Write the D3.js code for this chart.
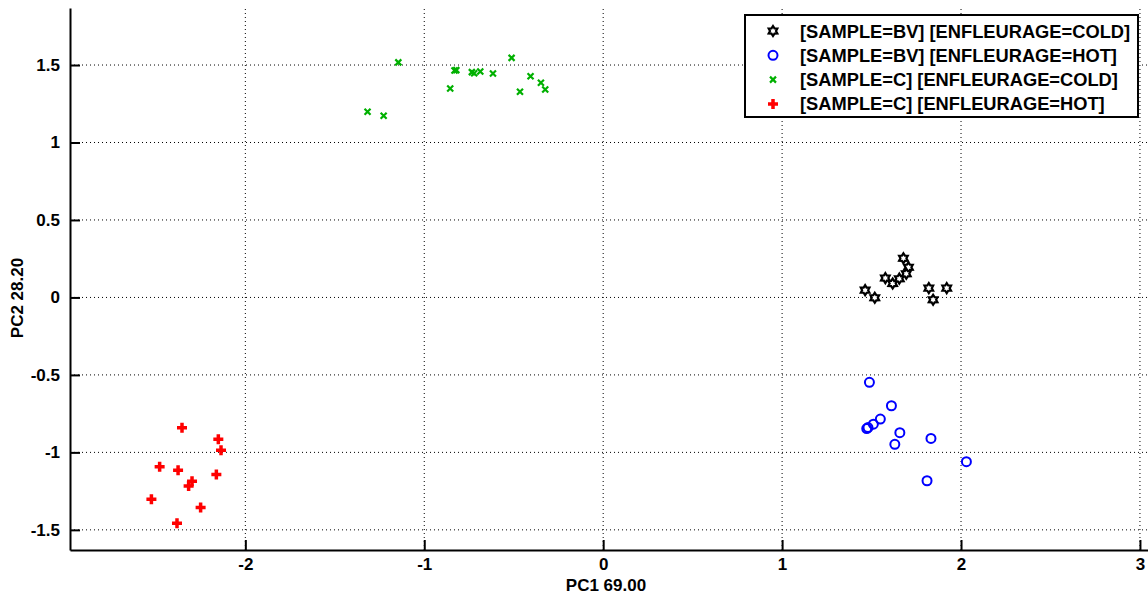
<html>
<head>
  <style>
  body { margin: 0; background: #fff; }
  #chart text { font-family: "Liberation Sans", Arial, sans-serif; font-weight: bold; fill: #000; }
  .grid line { stroke: #000; stroke-width: 1; stroke-dasharray: 1,3; }
  .axis path, .axis line { stroke: #000; stroke-width: 2; }
  </style>
  <script src="https://d3js.org/d3.v7.min.js"></script>
</head>
<body>
  <svg id="chart"></svg>
<script>
// scores
var bvColdX = [1.464, 1.518, 1.577, 1.618, 1.655, 1.678, 1.706, 1.694, 1.820, 1.844, 1.920];
var bvColdY = [0.047, -0.002, 0.125, 0.090, 0.121, 0.253, 0.195, 0.153, 0.060, -0.015, 0.060];
var bvHotX = [1.488, 1.611, 1.549, 1.510, 1.473, 1.480, 1.658, 1.630, 1.832, 2.030, 1.810];
var bvHotY = [-0.548, -0.699, -0.785, -0.818, -0.846, -0.840, -0.873, -0.948, -0.910, -1.060, -1.183];
var cColdX = [-1.145, -1.317, -1.227, -0.831, -0.821, -0.855, -0.734, -0.721, -0.687, -0.616, -0.512, -0.406, -0.465, -0.348, -0.324];
var cColdY = [1.517, 1.198, 1.172, 1.465, 1.467, 1.348, 1.454, 1.447, 1.458, 1.445, 1.546, 1.428, 1.327, 1.385, 1.342];
var cHotX = [-2.354, -2.151, -2.136, -2.479, -2.376, -2.162, -2.298, -2.317, -2.525, -2.250, -2.382];
var cHotY = [-0.841, -0.916, -0.987, -1.092, -1.116, -1.142, -1.187, -1.217, -1.303, -1.355, -1.458];

var seriesNames = ["[SAMPLE=BV] [ENFLEURAGE=COLD]", "[SAMPLE=BV] [ENFLEURAGE=HOT]",
                   "[SAMPLE=C] [ENFLEURAGE=COLD]", "[SAMPLE=C] [ENFLEURAGE=HOT]"];
var xTicks = [-2, -1, 0, 1, 2, 3];
var yTicks = [-1.5, -1, -0.5, 0, 0.5, 1, 1.5];

var width = 1148, height = 595;
var svg = d3.select("#chart").attr("width", width).attr("height", height);

var x = d3.scaleLinear().domain([-2.98, 3.045]).range([70, 1148]);
var y = d3.scaleLinear().domain([-1.63, 1.868]).range([550, 8]);

// dotted grid
var grid = svg.append("g").attr("class", "grid");
grid.selectAll(".gx").data(xTicks).enter().append("line")
    .attr("x1", function(d) { return x(d); }).attr("x2", function(d) { return x(d); })
    .attr("y1", y.range()[0]).attr("y2", y.range()[1]);
grid.selectAll(".gy").data(yTicks).enter().append("line")
    .attr("y1", function(d) { return y(d); }).attr("y2", function(d) { return y(d); })
    .attr("x1", x.range()[0]).attr("x2", x.range()[1]);

// axes with ticks pointing inward
svg.append("g").attr("class", "axis")
    .attr("transform", "translate(0," + y.range()[0] + ")")
    .call(d3.axisBottom(x).tickValues(xTicks).tickSize(-10).tickSizeOuter(0).tickPadding(8)
      .tickFormat(function(d) { return String(d); }));
svg.append("g").attr("class", "axis")
    .attr("transform", "translate(" + x.range()[0] + ",0)")
    .call(d3.axisLeft(y).tickValues(yTicks).tickSize(-10).tickSizeOuter(0).tickPadding(10)
      .tickFormat(function(d) { return String(d); }));
svg.selectAll(".axis text").style("font-size", "17px");

svg.append("text").attr("x", 606).attr("y", 591).attr("text-anchor", "middle")
    .style("font-size", "17px").text("PC1 69.00");
svg.append("text").attr("transform", "translate(23,298) rotate(-90)").attr("text-anchor", "middle")
    .style("font-size", "17px").text("PC2 28.20");

// six-pointed star (hexagram) outline
function hexagram(R, r) {
  var p = [];
  for (var i = 0; i < 12; i++) {
    var a = -Math.PI / 2 + i * Math.PI / 6, rad = i % 2 ? r : R;
    p.push([rad * Math.cos(a), rad * Math.sin(a)]);
  }
  return "M" + p.join("L") + "Z";
}

function drawMarker(g, kind) {
  if (kind === 0) {
    g.append("path").attr("d", hexagram(5, 3))
      .attr("fill", "#fff").attr("stroke", "#000").attr("stroke-width", 2.2);
  } else if (kind === 1) {
    g.append("circle").attr("r", 4.5).attr("fill", "none").attr("stroke", "#0000ff").attr("stroke-width", 2);
  } else if (kind === 2) {
    g.append("path").attr("d", "M-3,-3L3,3M-3,3L3,-3").attr("stroke", "#00b000").attr("stroke-width", 2.2);
  } else {
    g.append("path").attr("d", "M-5,0L5,0M0,-5L0,5").attr("stroke", "#ff0000").attr("stroke-width", 3.5);
  }
}

var series = [[bvColdX, bvColdY], [bvHotX, bvHotY], [cColdX, cColdY], [cHotX, cHotY]];
series.forEach(function(s, k) {
  var pts = s[0].map(function(v, i) { return [v, s[1][i]]; });
  svg.append("g").selectAll("g").data(pts).enter().append("g")
    .attr("transform", function(d) { return "translate(" + x(d[0]) + "," + y(d[1]) + ")"; })
    .each(function() { drawMarker(d3.select(this), k); });
});

// legend
var legend = svg.append("g").attr("transform", "translate(745,15)");
legend.append("rect").attr("width", 393).attr("height", 102)
    .attr("fill", "#fff").attr("stroke", "#000").attr("stroke-width", 2);
seriesNames.forEach(function(name, k) {
  var row = legend.append("g").attr("transform", "translate(0," + (16 + k * 24.3) + ")");
  drawMarker(row.append("g").attr("transform", "translate(28,0)"), k);
  row.append("text").attr("x", 55).attr("dy", "0.36em").style("font-size", "18.3px").text(name);
});
</script>
</body>
</html>
